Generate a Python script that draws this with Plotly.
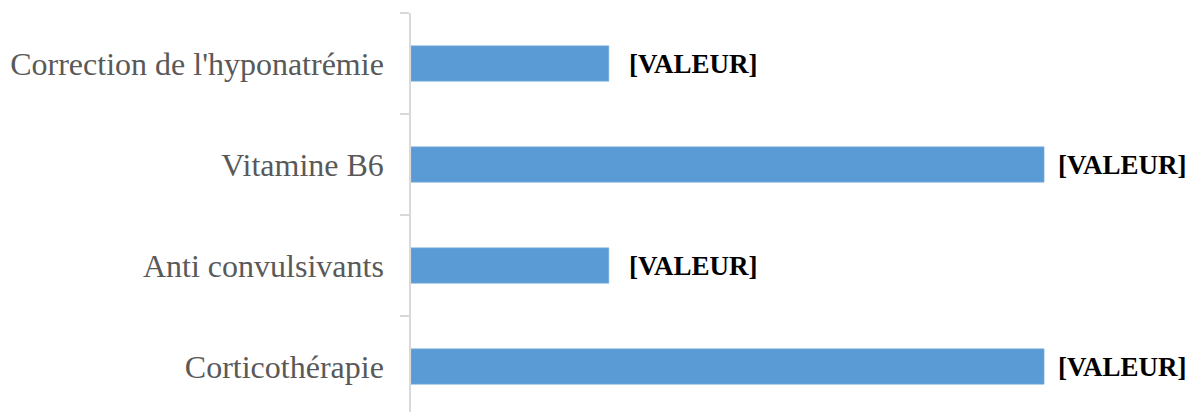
import plotly.graph_objects as go

# Treatments, listed top to bottom
categories = [
    "Correction de l'hyponatrémie",
    "Vitamine B6",
    "Anti convulsivants",
    "Corticothérapie",
]
values = [5, 16, 5, 16]
value_labels = ["[VALEUR]", "[VALEUR]", "[VALEUR]", "[VALEUR]"]

bar_color = "#5B9BD5"
axis_color = "#D9D9D9"

fig = go.Figure(
    go.Bar(
        x=values,
        y=categories,
        orientation="h",
        width=0.35,
        marker=dict(color=bar_color, line=dict(color="#7FB2E0", width=0.6)),
        hoverinfo="skip",
    )
)

# Value labels sit just past each bar end; the longest bars get a tighter gap
vmax = max(values)
for v, c, t in zip(values, categories, value_labels):
    fig.add_annotation(
        x=v, y=c, text=f"<b>{t}</b>", showarrow=False,
        xanchor="left", yanchor="middle", xshift=12 if v == vmax else 18,
        font=dict(family="Liberation Serif", size=27, color="#000000"),
    )

fig.update_layout(
    width=1195, height=412,
    margin=dict(l=411, r=52, t=13, b=0),
    paper_bgcolor="white", plot_bgcolor="white",
    showlegend=False,
    xaxis=dict(range=[0, 18.5], visible=False, showgrid=False, zeroline=False),
    yaxis=dict(
        type="category",
        categoryorder="array", categoryarray=categories,
        range=[3.45, -0.5],
        tickson="boundaries",
        ticks="outside", ticklen=9, tickcolor=axis_color, tickwidth=1.5,
        showline=True, linecolor=axis_color, linewidth=1.5,
        showgrid=False, zeroline=False,
        ticklabelstandoff=19,
        tickfont=dict(family="Liberation Serif", size=32, color="#595959"),
    ),
)

fig.write_html("out.html")
